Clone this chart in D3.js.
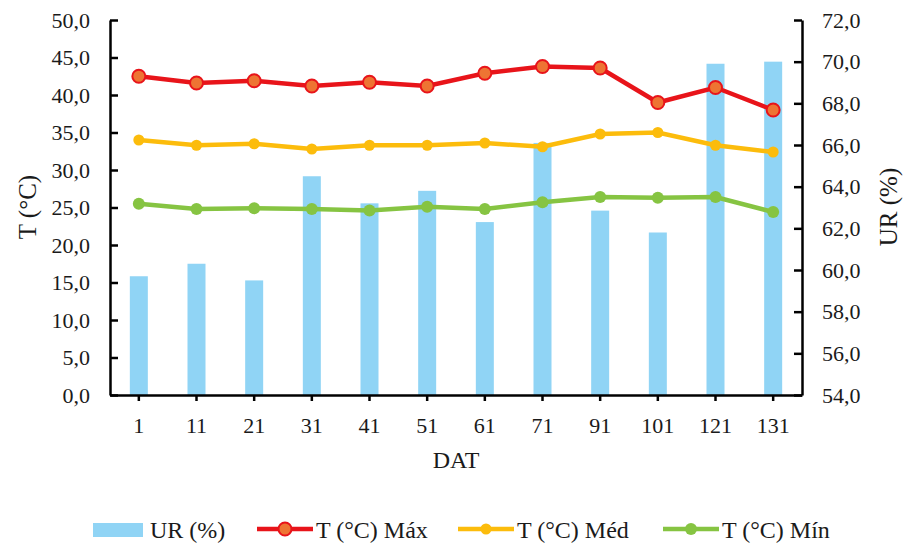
<!DOCTYPE html>
<html>
<head>
<meta charset="utf-8">
<script src="https://cdn.jsdelivr.net/npm/d3@7"></script>
<style>
  body { margin: 0; background: #fff; }
</style>
</head>
<body>
<div id="chart"></div>
<script>
var dat = ["1", "11", "21", "31", "41", "51", "61", "71", "91", "101", "121", "131"];
var urValues = [59.7, 60.3, 59.5, 64.5, 63.2, 63.8, 62.3, 66.1, 62.85, 61.8, 69.9, 70.0];
var tMax = [42.5, 41.6, 41.9, 41.2, 41.7, 41.2, 42.9, 43.8, 43.6, 39.0, 41.0, 38.0];
var tMed = [34.0, 33.3, 33.5, 32.8, 33.3, 33.3, 33.6, 33.1, 34.8, 35.0, 33.3, 32.4];
var tMin = [25.5, 24.8, 24.9, 24.8, 24.6, 25.1, 24.8, 25.7, 26.4, 26.3, 26.4, 24.4];
var leftTicks = [0, 5, 10, 15, 20, 25, 30, 35, 40, 45, 50];
var rightTicks = [54, 56, 58, 60, 62, 64, 66, 68, 70, 72];

var FONT = "Liberation Serif";
var TICK_SIZE = 22;
var svgWidth = 903, svgHeight = 544;
var margin = { top: 20, right: 101, bottom: 149, left: 110 };
var chartWidth = svgWidth - margin.left - margin.right;
var chartHeight = svgHeight - margin.top - margin.bottom;

var svg = d3.select("#chart").append("svg")
  .attr("width", svgWidth)
  .attr("height", svgHeight)
  .attr("font-family", FONT);

var chartGroup = svg.append("g")
  .attr("transform", `translate(${margin.left}, ${margin.top})`);

var xScale = d3.scaleBand().domain(dat).range([0, chartWidth]);
var yLeft = d3.scaleLinear().domain([0, 50]).range([chartHeight, 0]);
var yRight = d3.scaleLinear().domain([54, 72]).range([chartHeight, 0]);

var fmt = function(v) { return v.toFixed(1).replace(".", ","); };

// bars (UR, right axis)
var barW = 18;
chartGroup.append("g").selectAll("rect")
  .data(urValues)
  .enter()
  .append("rect")
  .attr("x", function(d, i) { return xScale(dat[i]) + xScale.bandwidth() / 2 - barW / 2; })
  .attr("y", function(d) { return yRight(d); })
  .attr("width", barW)
  .attr("height", function(d) { return chartHeight - yRight(d); })
  .attr("fill", "#90d4f5");

// axes
var leftAxis = d3.axisLeft(yLeft).tickValues(leftTicks).tickFormat(fmt).tickSizeInner(-8).tickSizeOuter(0).tickPadding(20);
var rightAxis = d3.axisRight(yRight).tickValues(rightTicks).tickFormat(fmt).tickSizeInner(-8).tickSizeOuter(0).tickPadding(20);
var bottomAxis = d3.axisBottom(xScale).tickSizeInner(6).tickSizeOuter(0).tickPadding(16);

function styleAxis(g) {
  g.attr("font-family", FONT).attr("font-size", TICK_SIZE);
  g.select(".domain").attr("stroke", "#000").attr("stroke-width", 2.5);
  g.selectAll(".tick line").attr("stroke", "#000").attr("stroke-width", 2.5);
  g.selectAll(".tick text").attr("font-family", FONT).attr("font-size", TICK_SIZE).attr("fill", "#1a1a1a");
}

chartGroup.append("g").call(leftAxis).call(styleAxis);
chartGroup.append("g").attr("transform", `translate(${chartWidth}, 0)`).call(rightAxis).call(styleAxis);
chartGroup.append("g").attr("transform", `translate(0, ${chartHeight})`).call(bottomAxis).call(styleAxis);

// lines
var series = [
  { name: "T (°C) Máx", values: tMax, color: "#e8141a", fill: "#ee7433", r: 6.5 },
  { name: "T (°C) Méd", values: tMed, color: "#fcbc0c", fill: "#fcbc0c", r: 5.5 },
  { name: "T (°C) Mín", values: tMin, color: "#86c442", fill: "#86c442", r: 6 }
];

var line = d3.line()
  .x(function(d, i) { return xScale(dat[i]) + xScale.bandwidth() / 2; })
  .y(function(d) { return yLeft(d); });

series.slice().reverse().forEach(function(s) {
  chartGroup.append("path")
    .datum(s.values)
    .attr("d", line)
    .attr("fill", "none")
    .attr("stroke", s.color)
    .attr("stroke-width", 4.5);
  chartGroup.append("g").selectAll("circle")
    .data(s.values)
    .enter()
    .append("circle")
    .attr("cx", function(d, i) { return xScale(dat[i]) + xScale.bandwidth() / 2; })
    .attr("cy", function(d) { return yLeft(d); })
    .attr("r", s.r)
    .attr("fill", s.fill)
    .attr("stroke", s.color)
    .attr("stroke-width", s.name.indexOf("Máx") >= 0 ? 2 : 0);
});

// Axis Labels
svg.append("text")
  .attr("text-anchor", "middle")
  .attr("transform", "rotate(-90)")
  .attr("x", -207)
  .attr("y", 36)
  .attr("font-family", FONT)
  .attr("font-size", 25)
  .attr("fill", "#1a1a1a")
  .text("T (°C)");

svg.append("text")
  .attr("text-anchor", "middle")
  .attr("transform", "rotate(-90)")
  .attr("x", -207)
  .attr("y", 897)
  .attr("font-family", FONT)
  .attr("font-size", 25)
  .attr("fill", "#1a1a1a")
  .text("UR (%)");

svg.append("text")
  .attr("text-anchor", "middle")
  .attr("x", 456)
  .attr("y", 468)
  .attr("font-family", FONT)
  .attr("font-size", 24)
  .attr("fill", "#1a1a1a")
  .text("DAT");

// legend
var legend = svg.append("g").attr("transform", "translate(0, 529)");
legend.append("rect").attr("x", 93).attr("y", -6).attr("width", 50).attr("height", 14).attr("fill", "#90d4f5");
legend.append("text").attr("x", 150).attr("y", 9).attr("font-family", FONT).attr("font-size", 24).attr("fill", "#1a1a1a").text("UR (%)");

var legendX = [257, 458, 663];
series.forEach(function(s, i) {
  var x0 = legendX[i];
  legend.append("line").attr("x1", x0).attr("x2", x0 + 56).attr("y1", 0).attr("y2", 0)
    .attr("stroke", s.color).attr("stroke-width", 4.5);
  legend.append("circle").attr("cx", x0 + 28).attr("cy", 0).attr("r", s.r)
    .attr("fill", s.fill).attr("stroke", s.color).attr("stroke-width", i === 0 ? 2 : 0);
  legend.append("text").attr("x", x0 + 59).attr("y", 9).attr("font-family", FONT).attr("font-size", 24).attr("fill", "#1a1a1a").text(s.name);
});
</script>
</body>
</html>
